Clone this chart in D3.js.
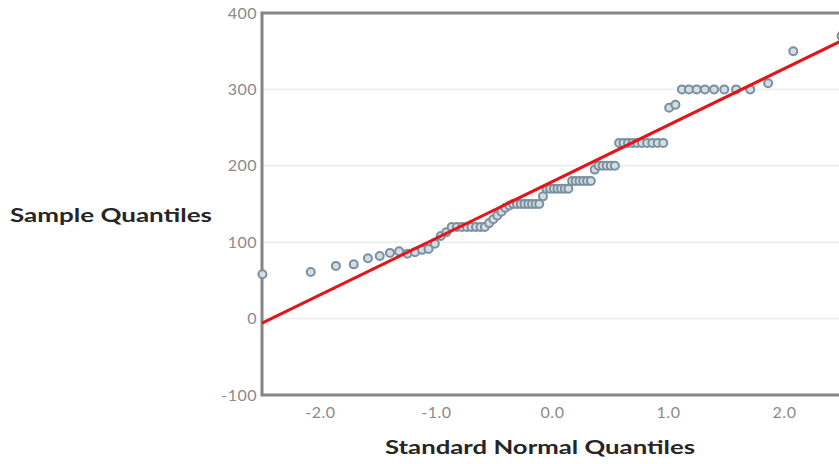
<!DOCTYPE html>
<html>
<head>
<meta charset="utf-8">
<script src="https://d3js.org/d3.v7.min.js"></script>
<style>
body {margin: 0; background: #fff;}
.tick text {font-family: Lato, "DejaVu Sans", sans-serif; font-size: 16px; fill: #8a8a8a; letter-spacing: 0.5px;}
.title {font-family: Lato, "DejaVu Sans", sans-serif; font-size: 19px; font-weight: 700; fill: #262626;}
</style>
</head>
<body>
<svg width="839" height="464"></svg>
<script>
// theoretical normal quantiles, (i - 0.5) / 80
var theoretical = [
  -2.496, -2.080, -1.863, -1.709, -1.587, -1.485, -1.397, -1.318, -1.247, -1.181,
  -1.120, -1.064, -1.010, -0.959, -0.911, -0.865, -0.820, -0.776, -0.734, -0.694,
  -0.655, -0.616, -0.579, -0.542, -0.506, -0.471, -0.436, -0.402, -0.368, -0.335,
  -0.302, -0.269, -0.237, -0.204, -0.173, -0.141, -0.110, -0.078, -0.047, -0.016,
   0.016,  0.047,  0.078,  0.110,  0.141,  0.173,  0.204,  0.237,  0.269,  0.302,
   0.335,  0.368,  0.402,  0.436,  0.471,  0.506,  0.542,  0.579,  0.616,  0.655,
   0.694,  0.734,  0.776,  0.820,  0.865,  0.911,  0.959,  1.010,  1.064,  1.120,
   1.181,  1.247,  1.318,  1.397,  1.485,  1.587,  1.709,  1.863,  2.080,  2.496
];
// sorted sample values
var sample = [
   58,  61,  69,  71,  79,  82,  86,  88,  85,  87,
   90,  91,  98, 108, 113, 120, 120, 120, 120, 120,
  120, 120, 120, 125, 130, 135, 140, 145, 148, 150,
  150, 150, 150, 150, 150, 150, 150, 160, 170, 170,
  170, 170, 170, 170, 170, 180, 180, 180, 180, 180,
  180, 195, 200, 200, 200, 200, 200, 230, 230, 230,
  230, 230, 230, 230, 230, 230, 230, 276, 280, 300,
  300, 300, 300, 300, 300, 300, 300, 308, 350, 370
];
var xTicks = [-2, -1, 0, 1, 2];
var yTicks = [-100, 0, 100, 200, 300, 400];
var lineEnds = [-2.5, 2.5];
var fitIntercept = 179, fitSlope = 74;

var svg = d3.select("svg");
var plotLeft = 262, plotRight = 842, plotTop = 13, plotBottom = 395;

var x = d3.scaleLinear().domain([-2.5, 2.5]).range([plotLeft, plotRight]);
var y = d3.scaleLinear().domain([-100, 400]).range([plotBottom, plotTop]);

// grid
svg.append("g")
  .selectAll("line").data(yTicks.slice(1, -1)).enter().append("line")
  .attr("x1", plotLeft).attr("x2", 845)
  .attr("y1", function(d) { return y(d); })
  .attr("y2", function(d) { return y(d); })
  .attr("stroke", "#ebebeb").attr("stroke-width", 1.5);

// axes
var yAxis = svg.append("g")
  .attr("transform", "translate(" + plotLeft + ",0)")
  .call(d3.axisLeft(y).tickValues(yTicks).tickSize(0).tickPadding(5)
    .tickFormat(function(d) { return String(d); }));
yAxis.select(".domain").remove();

var xAxis = svg.append("g")
  .attr("transform", "translate(0," + plotBottom + ")")
  .call(d3.axisBottom(x).tickValues(xTicks).tickSize(0).tickPadding(12)
    .tickFormat(function(d) { return d.toFixed(1); }));
xAxis.select(".domain").remove();

// frame
svg.append("path")
  .attr("d", "M845," + y(400) + "H" + plotLeft + "V" + y(-100) + "H845")
  .attr("fill", "none").attr("stroke", "#858585").attr("stroke-width", 3);

// points
svg.append("g")
  .selectAll("circle").data(sample).enter().append("circle")
  .attr("cx", function(d, i) { return x(theoretical[i]); })
  .attr("cy", function(d) { return y(d); })
  .attr("r", 4)
  .attr("fill", "#d3dde4")
  .attr("stroke", "#7b909f")
  .attr("stroke-width", 2);

// reference line
svg.append("line")
  .attr("x1", x(lineEnds[0])).attr("y1", y(fitIntercept + fitSlope * lineEnds[0]))
  .attr("x2", x(lineEnds[1])).attr("y2", y(fitIntercept + fitSlope * lineEnds[1]))
  .attr("stroke", "#e3151a").attr("stroke-width", 3);

// titles
svg.append("text").attr("class", "title")
  .attr("x", 10).attr("y", 222)
  .attr("textLength", 202).attr("lengthAdjust", "spacingAndGlyphs")
  .text("Sample Quantiles");
svg.append("text").attr("class", "title")
  .attr("x", 385).attr("y", 454)
  .attr("textLength", 310).attr("lengthAdjust", "spacingAndGlyphs")
  .text("Standard Normal Quantiles");
</script>
</body>
</html>
